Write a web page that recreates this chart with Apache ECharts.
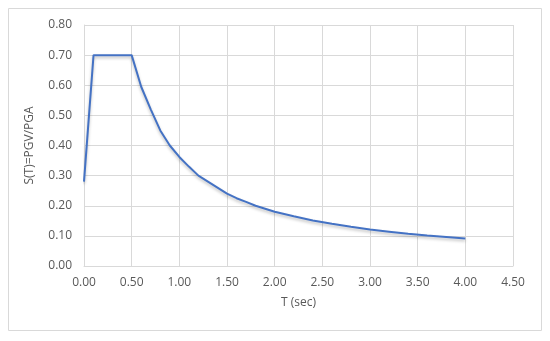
<!DOCTYPE html>
<html>
<head>
<meta charset="utf-8">
<script src="https://cdn.jsdelivr.net/npm/echarts@6/dist/echarts.min.js"></script>
<style>
  html, body { margin: 0; padding: 0; background: #fff; }
  #chart { width: 550px; height: 341px; }
</style>
</head>
<body>
<div id="chart"></div>
<script>
// spectrum
var periods = [0, 0.1, 0.5, 0.6, 0.7, 0.8, 0.9, 1.0, 1.1, 1.2, 1.3, 1.4, 1.5, 1.6, 1.7, 1.8, 1.9, 2.0,
               2.2, 2.4, 2.6, 2.8, 3.0, 3.2, 3.4, 3.6, 3.8, 4.0];
var ratios = [0.28, 0.70, 0.70, 0.595, 0.52, 0.45, 0.40, 0.362, 0.33, 0.30, 0.28, 0.26, 0.24, 0.225, 0.213, 0.20, 0.19, 0.18,
              0.165, 0.151, 0.14, 0.13, 0.121, 0.114, 0.107, 0.101, 0.096, 0.091];
var xTicks = { min: 0, max: 4.5, step: 0.5 };
var yTicks = { min: 0, max: 0.8, step: 0.1 };

var points = periods.map(function (t, i) { return [t, ratios[i]]; });

var chart = echarts.init(document.getElementById('chart'));
var font = 'Open Sans';
var option = {
  animation: false,
  graphic: [{
    type: 'rect',
    shape: { x: 8.5, y: 8.5, width: 533, height: 322 },
    style: { fill: 'none', stroke: '#d9d9d9', lineWidth: 1 }
  }],
  grid: { left: 84, right: 37, top: 25, bottom: 75 },
  xAxis: {
    type: 'value',
    min: xTicks.min, max: xTicks.max, interval: xTicks.step,
    name: 'T (sec)',
    nameLocation: 'middle',
    nameGap: 31,
    nameTextStyle: { color: '#595959', fontSize: 12, fontFamily: font },
    axisLine: { show: true, lineStyle: { color: '#d9d9d9' } },
    axisTick: { show: false },
    axisLabel: {
      color: '#595959', fontSize: 12, fontFamily: font, margin: 11,
      formatter: function (v) { return v.toFixed(2); }
    },
    splitLine: { show: true, lineStyle: { color: '#d9d9d9' } }
  },
  yAxis: {
    type: 'value',
    min: yTicks.min, max: yTicks.max, interval: yTicks.step,
    name: 'S(T)=PGV/PGA',
    nameLocation: 'middle',
    nameGap: 48,
    nameTextStyle: { color: '#595959', fontSize: 12, fontFamily: font },
    axisLine: { show: true, lineStyle: { color: '#d9d9d9' } },
    axisTick: { show: false },
    axisLabel: {
      color: '#595959', fontSize: 12, fontFamily: font, margin: 12,
      formatter: function (v) { return v.toFixed(2); }
    },
    splitLine: { show: true, lineStyle: { color: '#d9d9d9' } }
  },
  series: [{
    type: 'line',
    data: points,
    symbol: 'none',
    lineStyle: {
      color: '#4472c4', width: 2,
      shadowColor: 'rgba(0,0,0,0.25)', shadowBlur: 3, shadowOffsetY: 2
    }
  }]
};
chart.setOption(option);
</script>
</body>
</html>
